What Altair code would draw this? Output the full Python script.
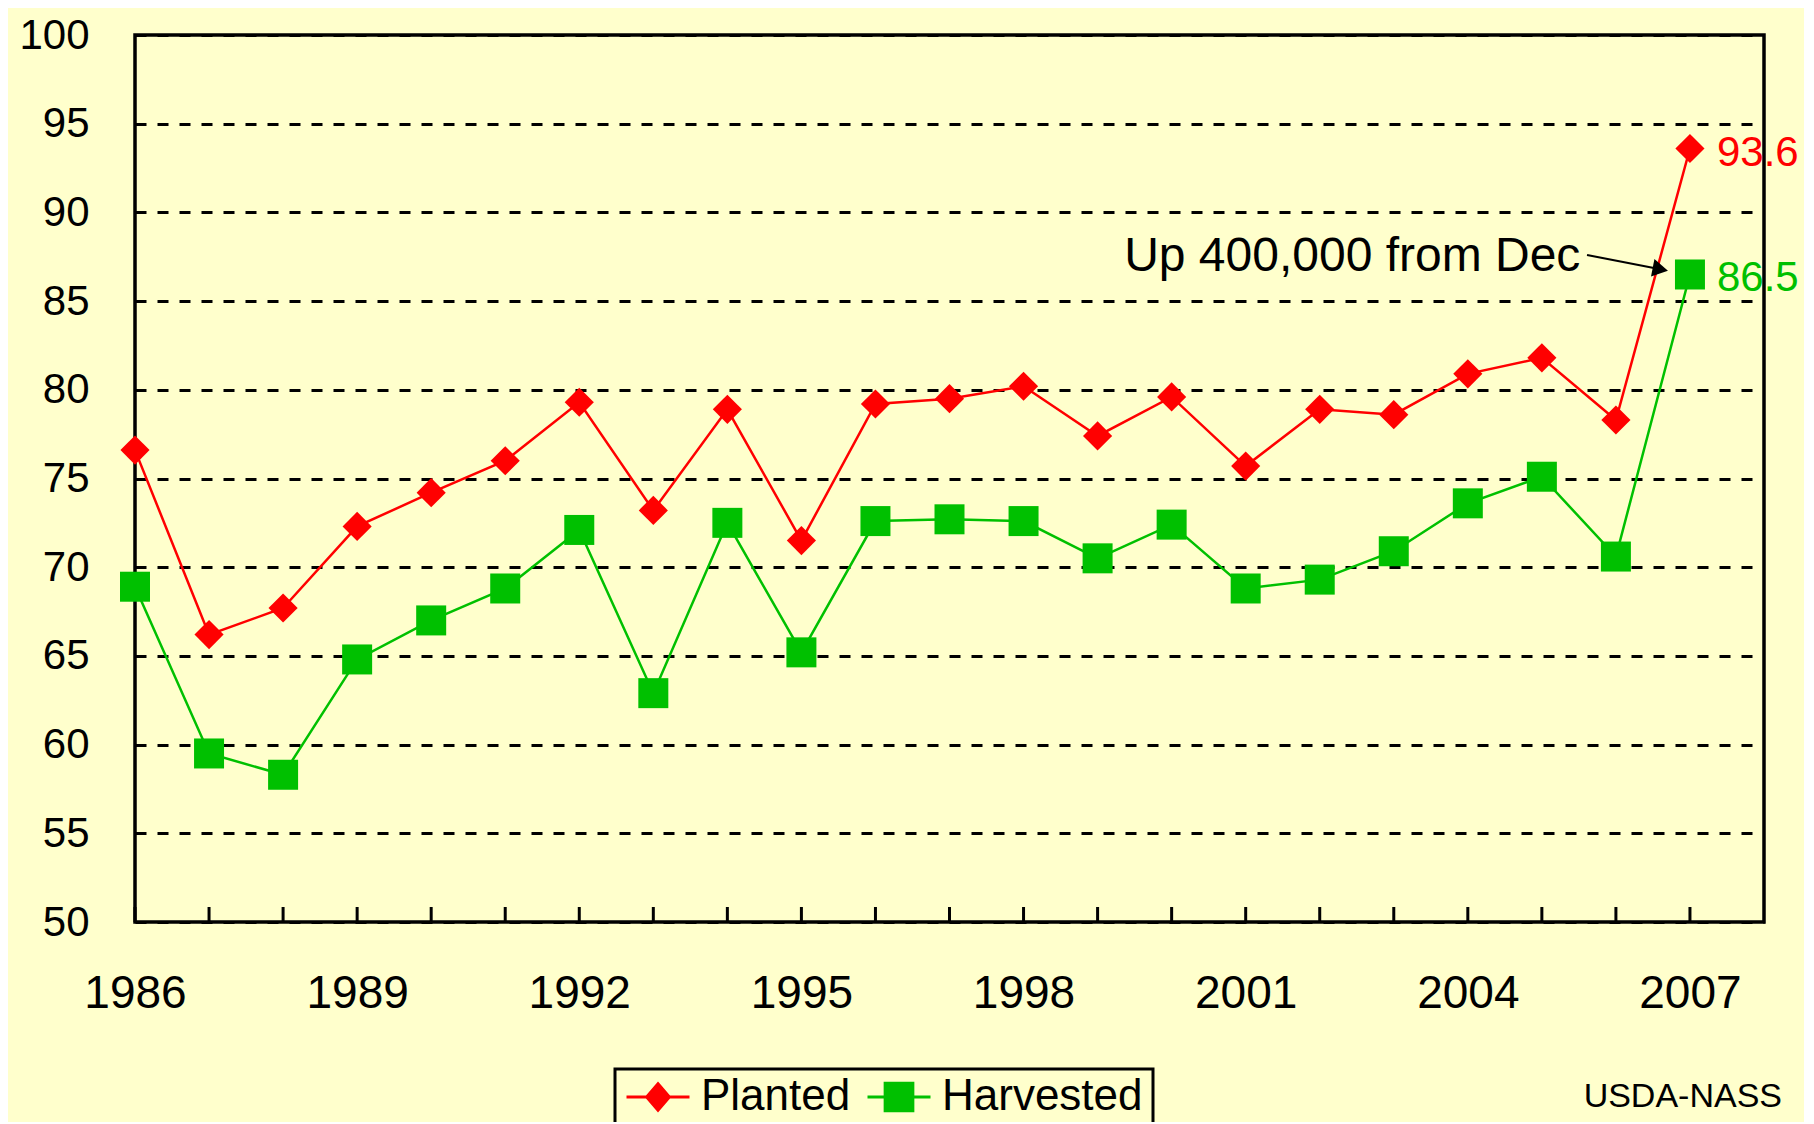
import altair as alt
import pandas as pd

# ---------------- data ----------------
years = [1986, 1987, 1988, 1989, 1990, 1991, 1992, 1993, 1994, 1995, 1996,
         1997, 1998, 1999, 2000, 2001, 2002, 2003, 2004, 2005, 2006, 2007]
planted = [76.6, 66.2, 67.7, 72.3, 74.2, 76.0, 79.3, 73.2, 78.9, 71.5, 79.2,
           79.5, 80.2, 77.4, 79.6, 75.7, 78.9, 78.6, 80.9, 81.8, 78.3, 93.6]
harvested = [68.9, 59.5, 58.3, 64.8, 67.0, 68.8, 72.1, 62.9, 72.5, 65.2, 72.6,
             72.7, 72.6, 70.5, 72.4, 68.8, 69.3, 70.9, 73.6, 75.1, 70.6, 86.5]
series_names = ["Planted", "Harvested"]
series_colors = ["#FF0000", "#00C000"]
series_shapes = ["diamond", "square"]
x_label_years = [1986, 1989, 1992, 1995, 1998, 2001, 2004, 2007]
y_tick_values = [50, 55, 60, 65, 70, 75, 80, 85, 90, 95, 100]
annotation_text = "Up 400,000 from Dec"
caption_text = "USDA-NASS"

df = pd.DataFrame({
    "year": years + years,
    "value": planted + harvested,
    "series": [series_names[0]] * len(years) + [series_names[1]] * len(years),
})

# ---------------- styling ----------------
W, H = 1629, 887
TOP = 27
FONT = "Liberation Sans"
BG = "#FFFFCC"

x_scale = alt.Scale(domain=[1986, 2008], nice=False, zero=False)
y_scale = alt.Scale(domain=[50, 100], nice=False, zero=False)

x_axis = alt.Axis(values=x_label_years, format="d", title=None, domain=False,
                  ticks=False, tickSize=0, grid=False, labelFontSize=46,
                  labelFont=FONT, labelColor="black", labelPadding=49,
                  labelBaseline="top", labelFlush=False,
                  labelOverlap=False)
y_axis = alt.Axis(values=y_tick_values, title=None, domain=False, ticks=False,
                  tickSize=0, grid=True, gridColor="black", gridWidth=3,
                  gridDash=[11, 11], gridOpacity=1, labelFontSize=42,
                  labelFont=FONT, labelColor="black", labelPadding=46,
                  labelFlush=False, labelOverlap=False)


def xq(field):
    return alt.X(f"{field}:Q", scale=x_scale, axis=x_axis)


def yq(field):
    return alt.Y(f"{field}:Q", scale=y_scale, axis=y_axis)


base = alt.Chart(df)

# inward tick marks on the x axis (one per year)
ticks = alt.Chart(pd.DataFrame({"year": years})).mark_rule(
    color="black", strokeWidth=3).encode(
    x=xq("year"), y=alt.value(H), y2=alt.value(H - 15))

layers = [ticks]

sizes = {"diamond": 850, "square": 900}
for name, col, shp in zip(series_names, series_colors, series_shapes):
    sub = base.transform_filter(alt.datum.series == name)
    layers.append(sub.mark_line(color=col, strokeWidth=2.5).encode(x=xq("year"), y=yq("value")))
for name, col, shp in zip(series_names, series_colors, series_shapes):
    sub = base.transform_filter(alt.datum.series == name)
    layers.append(sub.mark_point(shape=shp, filled=True, color=col, opacity=1,
                                 size=sizes[shp], strokeWidth=0).encode(x=xq("year"), y=yq("value")))
    # end-value label
    layers.append(
        base.transform_filter((alt.datum.series == name) & (alt.datum.year == years[-1]))
        .mark_text(align="left", baseline="middle", dx=27, dy=4, fontSize=42,
                   font=FONT, color=col)
        .encode(x=xq("year"), y=yq("value"), text=alt.Text("value:Q", format=".1f"))
    )

# annotation with arrow (anchored in data coordinates)
ann_df = pd.DataFrame({"x": [2005.52], "y": [86.7], "t": [annotation_text]})
layers.append(alt.Chart(ann_df).mark_text(
    align="right", baseline="alphabetic", fontSize=48, font=FONT, color="black").encode(
    x=xq("x"), y=yq("y"), text="t:N"))

arrow_df = pd.DataFrame({"x": [2005.61], "y": [87.6], "x2": [2006.60], "y2": [86.8]})
layers.append(alt.Chart(arrow_df).mark_rule(color="black", strokeWidth=2).encode(
    x=xq("x"), x2="x2:Q", y=yq("y"), y2="y2:Q"))
layers.append(alt.Chart(arrow_df).mark_point(
    shape="triangle-right", filled=True, color="black", size=320, angle=11,
    opacity=1, strokeWidth=0).encode(x=xq("x2"), y=yq("y2")))

# legend (line + marker symbols)
legend_paths = ["M-1,0H1M0,-0.42L0.36,0L0,0.42L-0.36,0Z",
                "M-1,0H1M-0.44,-0.44H0.44V0.44H-0.44Z"]
leg = alt.Legend(title=None, orient="none", legendX=480, legendY=1034,
                 direction="horizontal", strokeColor="black", fillColor=BG,
                 padding=10, labelFontSize=44, labelFont=FONT, labelColor="black",
                 labelOffset=10, columnPadding=15, symbolSize=3969,
                 symbolStrokeWidth=3, clipHeight=36, symbolOpacity=1,
                 labelLimit=400)
layers.append(
    base.transform_filter("datum.series == 'none'")
    .mark_point(filled=True, opacity=1, strokeWidth=3)
    .encode(
        x=xq("year"), y=yq("value"),
        color=alt.Color("series:N", scale=alt.Scale(domain=series_names, range=series_colors), legend=leg),
        stroke=alt.Stroke("series:N", scale=alt.Scale(domain=series_names, range=series_colors), legend=leg),
        shape=alt.Shape("series:N", scale=alt.Scale(domain=series_names, range=legend_paths), legend=leg),
    )
)

# source caption
layers.append(alt.Chart(pd.DataFrame({"t": [caption_text]})).mark_text(
    align="right", baseline="middle", fontSize=34, font=FONT, color="black").encode(
    x=alt.value(1647), y=alt.value(1062), text="t:N"))

chart = alt.layer(*layers).properties(
    width=W, height=H,
    autosize=alt.AutoSizeParams(type="none"),
    padding={"left": 127, "top": TOP, "right": 40, "bottom": 200},
).configure(background=BG, font=FONT).configure_view(
    stroke="black", strokeWidth=3.5
).configure_legend(strokeWidth=3)

chart.save("out.html", embed_options={"renderer": "svg", "actions": False})
